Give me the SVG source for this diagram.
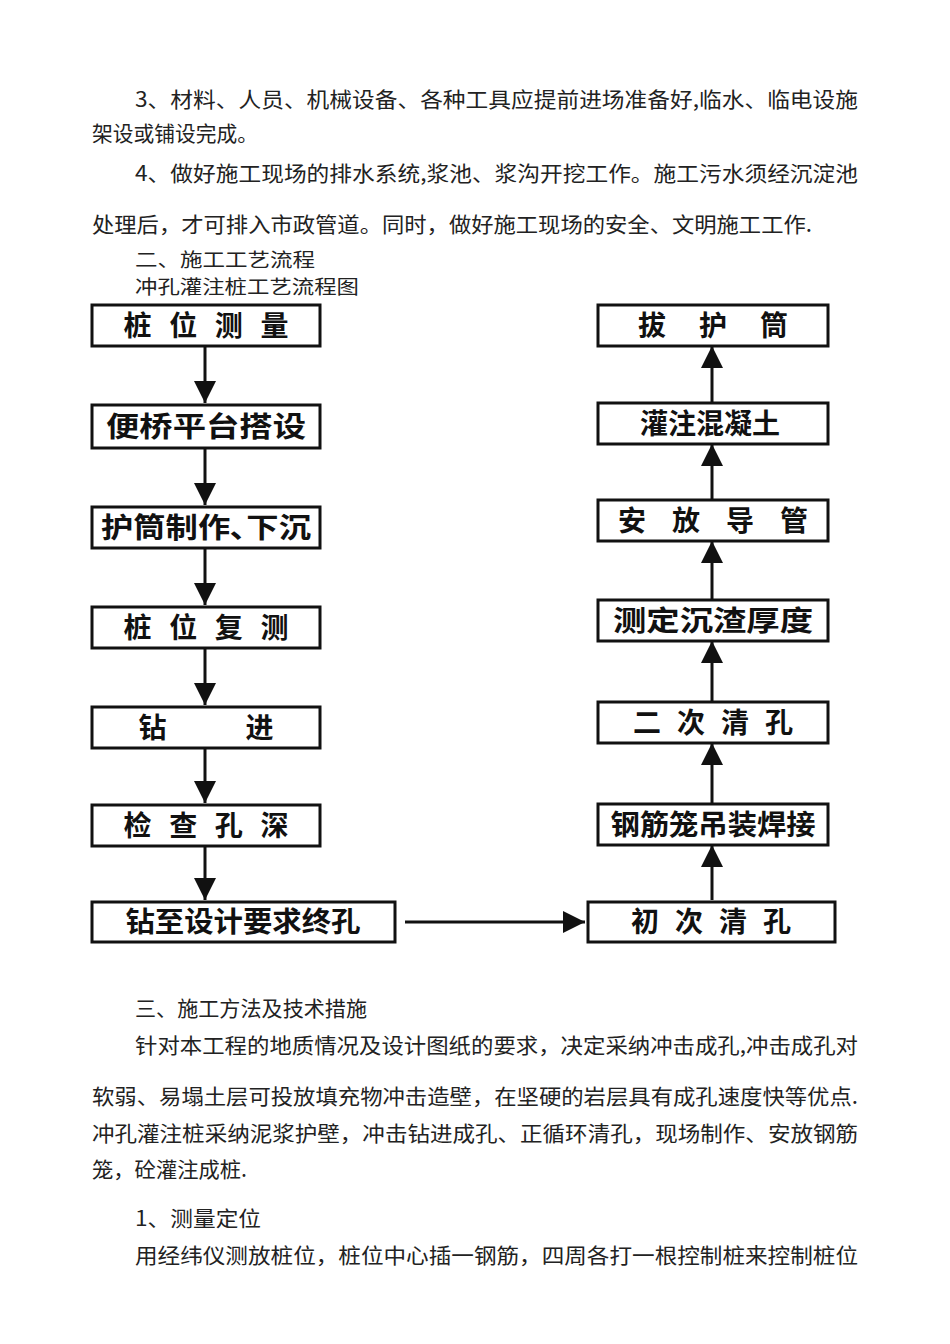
<svg xmlns="http://www.w3.org/2000/svg" width="950" height="1344" viewBox="0 0 950 1344">
<style>
.t{font-family:"Noto Sans CJK SC","Liberation Sans",sans-serif;font-size:21px;fill:#222}
.s{font-size:19px}
.b{fill:#fff;stroke:#111;stroke-width:3}
.bt{font-family:"Noto Sans CJK SC",sans-serif;font-size:28px;font-weight:bold;fill:#111;text-anchor:middle}
.c{stroke:#111;stroke-width:3;fill:none}
</style>
<defs><marker id="m" viewBox="0 0 10 10" refX="10" refY="5" markerWidth="22" markerHeight="26" orient="auto" markerUnits="userSpaceOnUse"><path d="M0,0L10,5L0,10z" fill="#111"/></marker></defs>
<text class="t" x="135" y="107" textLength="723" lengthAdjust="spacingAndGlyphs">3、材料、人员、机械设备、各种工具应提前进场准备好,临水、临电设施</text>
<text class="t" x="92" y="141" textLength="166" lengthAdjust="spacingAndGlyphs">架设或铺设完成。</text>
<text class="t" x="135" y="181" textLength="723" lengthAdjust="spacingAndGlyphs">4、做好施工现场的排水系统,浆池、浆沟开挖工作。施工污水须经沉淀池</text>
<text class="t" x="92" y="232" textLength="720" lengthAdjust="spacingAndGlyphs">处理后，才可排入市政管道。同时，做好施工现场的安全、文明施工工作.</text>
<text class="t s" x="135" y="267" textLength="180" lengthAdjust="spacingAndGlyphs">二、施工工艺流程</text>
<text class="t s" x="135" y="294" textLength="224" lengthAdjust="spacingAndGlyphs">冲孔灌注桩工艺流程图</text>
<g id="connectors">
<path class="c" d="M205,346V403" marker-end="url(#m)"/>
<path class="c" d="M205,448V505" marker-end="url(#m)"/>
<path class="c" d="M205,548V605" marker-end="url(#m)"/>
<path class="c" d="M205,648V705" marker-end="url(#m)"/>
<path class="c" d="M205,748V803" marker-end="url(#m)"/>
<path class="c" d="M205,846V900" marker-end="url(#m)"/>
<path class="c" d="M405,922H585" marker-end="url(#m)"/>
<path class="c" d="M712,900V845" marker-end="url(#m)"/>
<path class="c" d="M712,804V743" marker-end="url(#m)"/>
<path class="c" d="M712,702V641" marker-end="url(#m)"/>
<path class="c" d="M712,600V541" marker-end="url(#m)"/>
<path class="c" d="M712,500V444" marker-end="url(#m)"/>
<path class="c" d="M712,403V346" marker-end="url(#m)"/>
</g>
<g id="n1"><rect class="b" x="92" y="305" width="228" height="41"/><text class="bt" x="206" y="336" textLength="165">桩位测量</text></g>
<g id="n2"><rect class="b" x="92" y="405" width="228" height="43"/><text class="bt" x="206" y="437" textLength="200" lengthAdjust="spacingAndGlyphs">便桥平台搭设</text></g>
<g id="n3"><rect class="b" x="92" y="507" width="228" height="41"/><text class="bt" x="206" y="538" textLength="210" lengthAdjust="spacingAndGlyphs">护筒制作､下沉</text></g>
<g id="n4"><rect class="b" x="92" y="607" width="228" height="41"/><text class="bt" x="206" y="638" textLength="165">桩位复测</text></g>
<g id="n5"><rect class="b" x="92" y="707" width="228" height="41"/><text class="bt" x="206" y="738" textLength="135">钻进</text></g>
<g id="n6"><rect class="b" x="92" y="805" width="228" height="41"/><text class="bt" x="206" y="836" textLength="165">检查孔深</text></g>
<g id="n7"><rect class="b" x="92" y="902" width="303" height="40"/><text class="bt" x="243" y="932" textLength="235" lengthAdjust="spacingAndGlyphs">钻至设计要求终孔</text></g>
<g id="n8"><rect class="b" x="588" y="902" width="247" height="40"/><text class="bt" x="711" y="932" textLength="160">初次清孔</text></g>
<g id="n9"><rect class="b" x="598" y="804" width="230" height="41"/><text class="bt" x="713" y="835" textLength="205" lengthAdjust="spacingAndGlyphs">钢筋笼吊装焊接</text></g>
<g id="n10"><rect class="b" x="598" y="702" width="230" height="41"/><text class="bt" x="713" y="733" textLength="160">二次清孔</text></g>
<g id="n11"><rect class="b" x="598" y="600" width="230" height="41"/><text class="bt" x="713" y="631" textLength="200" lengthAdjust="spacingAndGlyphs">测定沉渣厚度</text></g>
<g id="n12"><rect class="b" x="598" y="500" width="230" height="41"/><text class="bt" x="713" y="531" textLength="190">安放导管</text></g>
<g id="n13"><rect class="b" x="598" y="403" width="230" height="41"/><text class="bt" x="710" y="434" textLength="140">灌注混凝土</text></g>
<g id="n14"><rect class="b" x="598" y="305" width="230" height="41"/><text class="bt" x="713" y="336" textLength="150">拔护筒</text></g>
<text class="t" x="135" y="1016" textLength="232" lengthAdjust="spacingAndGlyphs">三、施工方法及技术措施</text>
<text class="t" x="135" y="1053" textLength="723" lengthAdjust="spacingAndGlyphs">针对本工程的地质情况及设计图纸的要求，决定采纳冲击成孔,冲击成孔对</text>
<text class="t" x="92" y="1104" textLength="766" lengthAdjust="spacingAndGlyphs">软弱、易塌土层可投放填充物冲击造壁，在坚硬的岩层具有成孔速度快等优点.</text>
<text class="t" x="92" y="1141" textLength="766" lengthAdjust="spacingAndGlyphs">冲孔灌注桩采纳泥浆护壁，冲击钻进成孔、正循环清孔，现场制作、安放钢筋</text>
<text class="t" x="92" y="1177" textLength="155" lengthAdjust="spacingAndGlyphs">笼，砼灌注成桩.</text>
<text class="t" x="135" y="1226" textLength="126" lengthAdjust="spacingAndGlyphs">1、测量定位</text>
<text class="t" x="135" y="1263" textLength="723" lengthAdjust="spacingAndGlyphs">用经纬仪测放桩位，桩位中心插一钢筋，四周各打一根控制桩来控制桩位</text>
</svg>
